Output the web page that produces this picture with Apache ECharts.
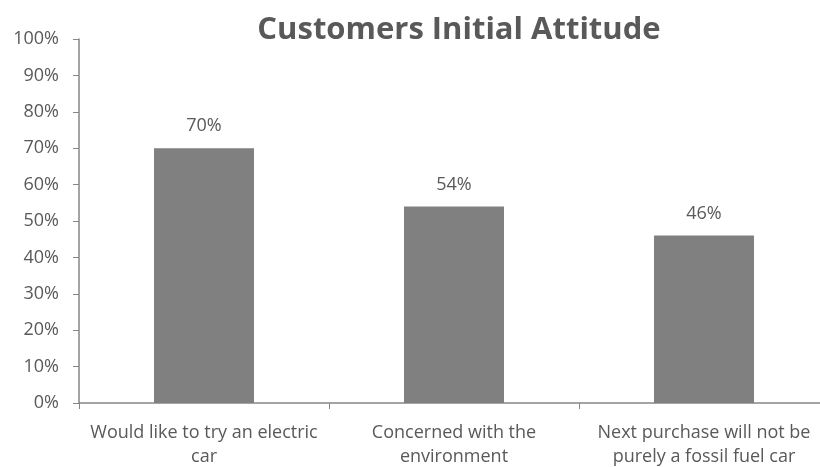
<!DOCTYPE html>
<html><head><meta charset="utf-8">
<script src="https://cdn.jsdelivr.net/npm/echarts@6/dist/echarts.min.js"></script>
<style>html,body{margin:0;padding:0;background:#fff}#c{width:820px;height:467px}</style>
</head><body><div id="c"></div>
<script>
const titleText = 'Customers Initial Attitude';
const categories = ['Would like to try an electric\ncar', 'Concerned with the\nenvironment', 'Next purchase will not be\npurely a fossil fuel car'];
const values = [70, 54, 46];
const yTicks = [0, 10, 20, 30, 40, 50, 60, 70, 80, 90, 100];

const font = '"Open Sans", "Liberation Sans", sans-serif';
const chart = echarts.init(document.getElementById('c'));
chart.setOption({
  animation: false,
  title: {
    text: titleText, left: 454, top: 10, textAlign: 'center',
    textStyle: { fontFamily: font, fontSize: 31, fontWeight: 'bold', color: '#595959' }
  },
  grid: { left: 79, right: -9, top: 39, bottom: 64, containLabel: false, outerBoundsMode: 'none' },
  xAxis: {
    type: 'category', data: categories,
    axisLine: { lineStyle: { color: '#868686', width: 1.5 } },
    axisTick: { show: true, length: 6, lineStyle: { color: '#868686' } },
    axisLabel: { interval: 0, fontFamily: font, fontSize: 18, color: '#595959', lineHeight: 24, margin: 18 }
  },
  yAxis: {
    type: 'value', min: yTicks[0], max: yTicks[yTicks.length - 1], interval: 10,
    axisLine: { show: true, lineStyle: { color: '#868686', width: 1.5 } },
    axisTick: { show: true, length: 6, lineStyle: { color: '#868686' } },
    splitLine: { show: false },
    axisLabel: { fontFamily: font, fontSize: 18, color: '#595959', margin: 20, formatter: v => v + '%' }
  },
  series: [{
    type: 'bar', data: values, barWidth: '40%',
    itemStyle: { color: '#808080' },
    label: { show: true, position: 'top', distance: 13, formatter: p => p.value + '%',
      fontFamily: font, fontSize: 18, color: '#595959' }
  }]
});
</script></body></html>
